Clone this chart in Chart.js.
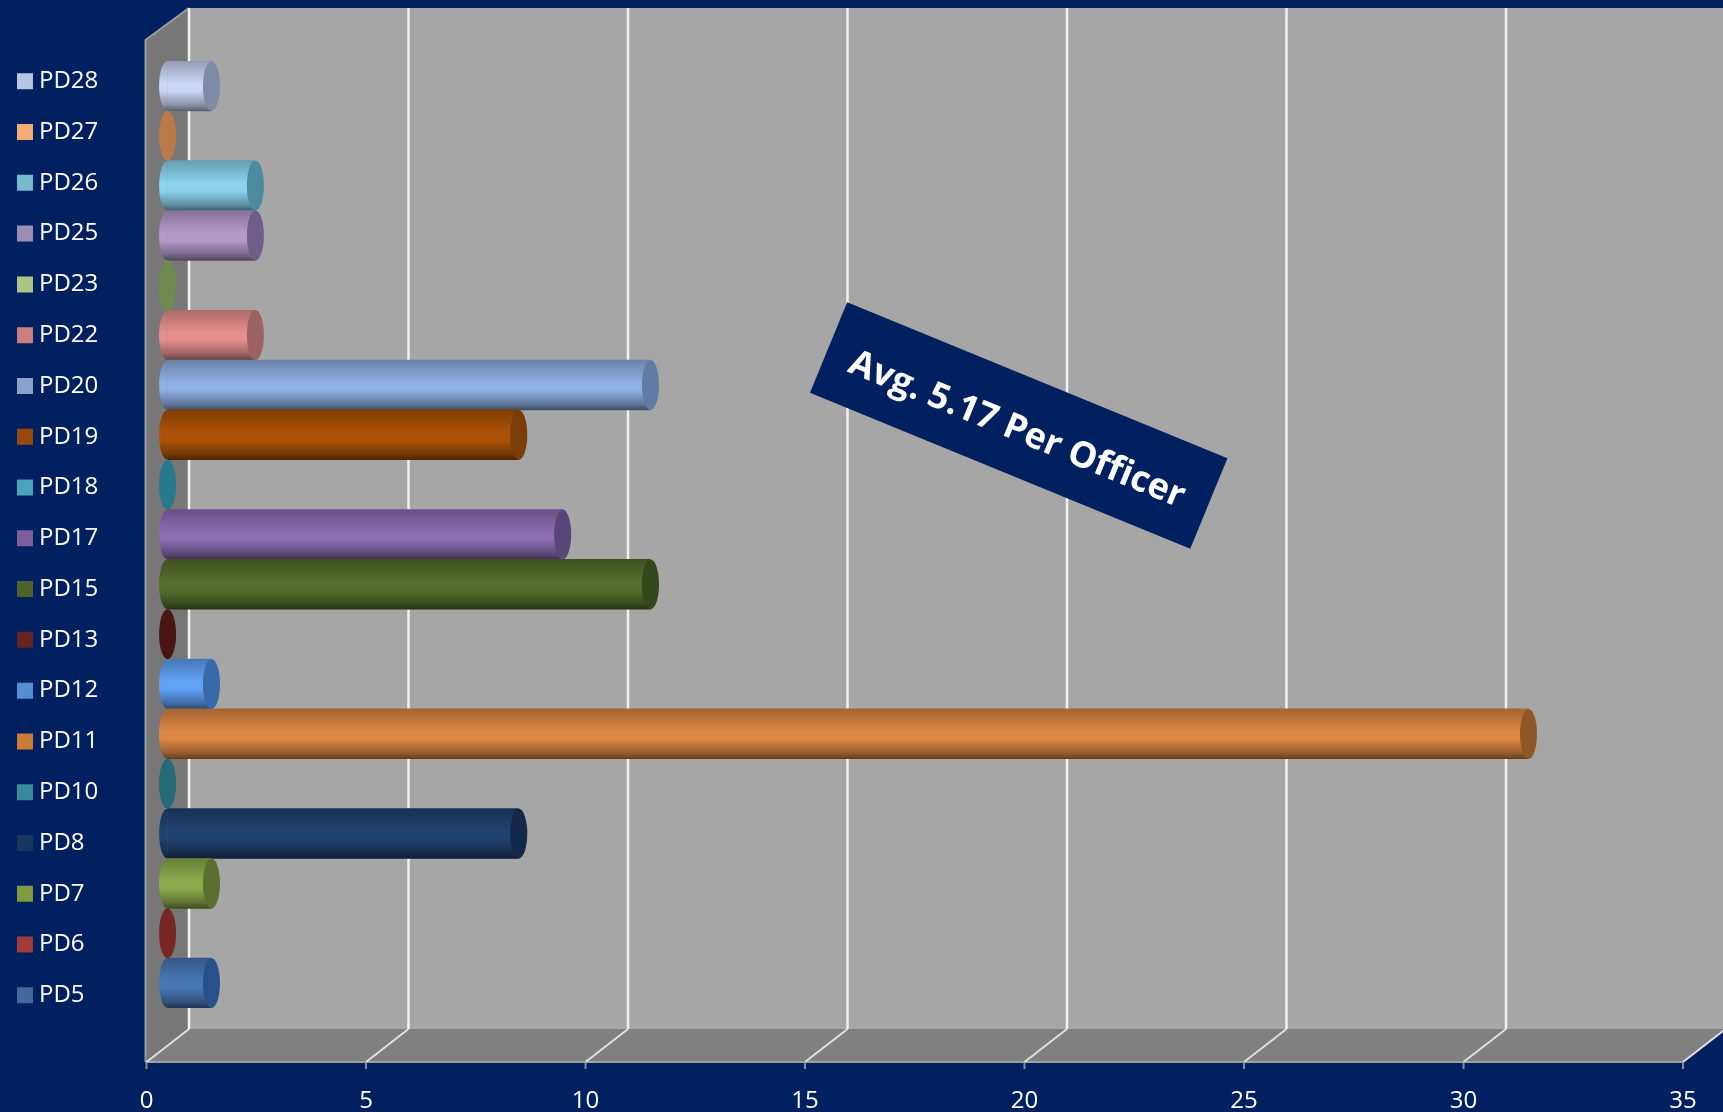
<!DOCTYPE html>
<html>
<head>
<meta charset="utf-8">
<title>PD chart</title>
<script src="https://cdn.jsdelivr.net/npm/chart.js@4"></script>
<style>
    html, body { margin: 0; padding: 0; background: #002060; overflow: hidden; }
    #wrap { width: 1723px; height: 1112px; position: relative; }
</style>
</head>
<body>
<div id="wrap"><canvas id="pdChart"></canvas></div>
<script>
const categories = ['PD28', 'PD27', 'PD26', 'PD25', 'PD23', 'PD22', 'PD20', 'PD19', 'PD18', 'PD17',
    'PD15', 'PD13', 'PD12', 'PD11', 'PD10', 'PD8', 'PD7', 'PD6', 'PD5'];
const counts = [1, 0, 2, 2, 0, 2, 11, 8, 0, 9, 11, 0, 1, 31, 0, 8, 1, 0, 1];
const swatchColors = ['#B8C6E0', '#F9AB76', '#79B9CF', '#9C8DB6', '#AFC585', '#CD7F7E', '#87A2CB', '#97480A', '#4AA5BC', '#7A5F9B',
    '#4F6229', '#652421', '#558ED5', '#CC7A36', '#378B9F', '#17375E', '#7F9A3F', '#A03C3A', '#43699B'];
const bodyColors = ['#C9D6F5', '#E49A66', '#8AD4EE', '#B39ACB', '#A0BC70', '#E68F8E', '#8EB0E4', '#AC5206', '#3A9AB0', '#8D6DB3',
    '#566E2C', '#5A1A18', '#60A2F5', '#DE8843', '#2F8496', '#1F4270', '#8CAA4C', '#8A2C2A', '#4677B4'];
const capColors = ['#7F8BA6', '#BA7A4C', '#4C8A9F', '#6F5F88', '#6F8A4E', '#9A6261', '#5F7BA6', '#7A3C08', '#277A8C', '#5A4578',
    '#33471A', '#4A1513', '#366AA8', '#8F5725', '#246A78', '#12294A', '#5A702E', '#782725', '#28508A'];
const xTicks = { min: 0, max: 35, step: 5 };
const avgLabel = 'Avg. 5.17 Per Officer';

// fake 3d box, px offset from the front of the box to the back wall
const depthX = 42.5;
const depthY = -33;
const floorY = 1062;
const wallTopY = 8;
const barShift = 0.48; // bars sit half way into the box, in axis units

function boxPlugin(chart) {
    const ctx = chart.ctx;
    const x = chart.scales.x;
    const x0 = x.getPixelForValue(0);
    const backX = x0 + depthX;
    const backY = floorY + depthY;
    ctx.save();
    // back wall
    ctx.fillStyle = '#A6A6A6';
    ctx.fillRect(backX, wallTopY, chart.width - backX, backY - wallTopY);
    // left wall
    ctx.fillStyle = '#777777';
    ctx.beginPath();
    ctx.moveTo(x0 - 1, floorY);
    ctx.lineTo(x0 - 1, wallTopY + 32);
    ctx.lineTo(backX, wallTopY);
    ctx.lineTo(backX, backY);
    ctx.closePath();
    ctx.fill();
    ctx.strokeStyle = '#9A9A9A';
    ctx.lineWidth = 2;
    ctx.beginPath();
    ctx.moveTo(x0 - 1, floorY);
    ctx.lineTo(x0 - 1, wallTopY + 32);
    ctx.lineTo(backX, wallTopY);
    ctx.stroke();
    // floor
    ctx.fillStyle = '#808080';
    ctx.beginPath();
    ctx.moveTo(x0 - 1, floorY);
    ctx.lineTo(x.right, floorY);
    ctx.lineTo(x.right + depthX, backY);
    ctx.lineTo(chart.width, backY);
    ctx.lineTo(backX, backY);
    ctx.closePath();
    ctx.fill();
    ctx.strokeStyle = '#A0A0A0';
    ctx.beginPath();
    ctx.moveTo(x0 - 1, floorY);
    ctx.lineTo(x.right, floorY);
    ctx.stroke();
    // gridlines up the back wall and across the floor, one per tick
    x.ticks.forEach(t => {
        const px = x.getPixelForValue(t.value);
        ctx.strokeStyle = '#F2F2F2';
        ctx.lineWidth = 2.5;
        ctx.beginPath();
        ctx.moveTo(px + depthX, wallTopY);
        ctx.lineTo(px + depthX, backY);
        ctx.stroke();
        ctx.strokeStyle = '#E0E0E0';
        ctx.lineWidth = 2;
        ctx.beginPath();
        ctx.moveTo(px + depthX, backY);
        ctx.lineTo(px, floorY);
        ctx.stroke();
        ctx.strokeStyle = '#8C8C8C';
        ctx.beginPath();
        ctx.moveTo(px, floorY);
        ctx.lineTo(px, floorY + 7);
        ctx.stroke();
    });
    ctx.restore();
}

// cylinder shading for one bar, top edge to bottom edge
function barGradient(chart, i) {
    const y = chart.scales.y;
    const mid = y.getPixelForValue(i);
    const half = y.height / categories.length / 2;
    const g = chart.ctx.createLinearGradient(0, mid - half, 0, mid + half);
    const base = bodyColors[i];
    g.addColorStop(0, shade(base, 0.74));
    g.addColorStop(0.45, base);
    g.addColorStop(0.6, base);
    g.addColorStop(0.88, shade(base, 0.68));
    g.addColorStop(1, shade(base, 0.45));
    return g;
}

function shade(hex, f) {
    const n = parseInt(hex.slice(1), 16);
    const r = Math.round((n >> 16 & 255) * f);
    const g = Math.round((n >> 8 & 255) * f);
    const b = Math.round((n & 255) * f);
    return `rgb(${r}, ${g}, ${b})`;
}

const capRadiusX = 8.5;

const cylinderPlugin = {
    id: 'cylinders',
    beforeLayout(chart) {
        // the legend column is as wide as the gutter left of the box
        if (!chart.legend.patched) {
            const fit = chart.legend.fit;
            chart.legend.fit = function () {
                fit.call(this);
                this.width = 146.5;
            };
            chart.legend.patched = true;
        }
    },
    afterLayout(chart) {
        chart.legend.left = -3.8;
        chart.legend.top = 42.5;
    },
    beforeDatasetsDraw(chart) {
        boxPlugin(chart);
        const ctx = chart.ctx;
        const bars = chart.getDatasetMeta(0).data;
        // rounded back end of every bar that has a length
        bars.forEach((bar, i) => {
            if (counts[i] === 0) return;
            ctx.save();
            ctx.fillStyle = barGradient(chart, i);
            ctx.beginPath();
            ctx.ellipse(bar.base, bar.y, capRadiusX, bar.height / 2, 0, Math.PI / 2, Math.PI * 1.5);
            ctx.fill();
            ctx.restore();
        });
    },
    afterDatasetsDraw(chart) {
        const ctx = chart.ctx;
        const bars = chart.getDatasetMeta(0).data;
        bars.forEach((bar, i) => {
            ctx.save();
            ctx.fillStyle = capColors[i];
            ctx.beginPath();
            ctx.ellipse(bar.x, bar.y, capRadiusX, bar.height / 2, 0, 0, Math.PI * 2);
            ctx.fill();
            ctx.restore();
        });
        // rotated label box
        ctx.save();
        ctx.translate(1018.7, 425.5);
        ctx.rotate(22.3 * Math.PI / 180);
        ctx.fillStyle = '#002060';
        ctx.fillRect(-205.5, -49, 411, 98);
        ctx.fillStyle = '#FFFFFF';
        ctx.font = 'bold 36px "Open Sans"';
        ctx.textAlign = 'center';
        ctx.textBaseline = 'middle';
        ctx.fillText(avgLabel, 0, 5);
        ctx.restore();
    }
};

const pdChart = new Chart(document.getElementById('pdChart').getContext('2d'), {
    type: 'bar',
    data: {
        labels: categories,
        datasets: [{
            label: 'Count',
            data: counts,
            xAxisID: 'x2',
            yAxisID: 'y',
            barPercentage: 1,
            categoryPercentage: 1,
            backgroundColor: function (context) {
                const chart = context.chart;
                if (!chart.chartArea) return bodyColors[context.dataIndex];
                return barGradient(chart, context.dataIndex);
            }
        }]
    },
    plugins: [cylinderPlugin],
    options: {
        indexAxis: 'y',
        responsive: true,
        maintainAspectRatio: false,
        animation: false,
        devicePixelRatio: 1,
        layout: {
            padding: { top: 61, right: 40, left: 0, bottom: 0 }
        },
        scales: {
            x: {
                type: 'linear',
                position: 'bottom',
                min: xTicks.min,
                max: xTicks.max,
                afterFit(scale) {
                    scale.height = 104;
                    scale.paddingLeft = 0;
                    scale.paddingRight = 0;
                },
                border: { display: false },
                grid: { display: false },
                ticks: {
                    stepSize: xTicks.step,
                    color: '#FFFFFF',
                    padding: 71,
                    maxRotation: 0,
                    font: { family: '"Open Sans"', size: 24 }
                }
            },
            x2: {
                type: 'linear',
                display: false,
                min: xTicks.min - barShift,
                max: xTicks.max - barShift
            },
            y: {
                display: false,
                grid: { display: false }
            }
        },
        plugins: {
            title: { display: false },
            tooltip: { enabled: false },
            legend: {
                display: true,
                position: 'left',
                align: 'start',
                onClick: null,
                labels: {
                    color: '#FFFFFF',
                    boxWidth: 4,
                    boxHeight: 4,
                    padding: 26.78,
                    font: { family: '"Open Sans"', size: 24 },
                    generateLabels: () => categories.map((c, i) => ({
                        text: c,
                        fillStyle: swatchColors[i],
                        strokeStyle: swatchColors[i],
                        fontColor: '#FFFFFF',
                        lineWidth: 12,
                        lineJoin: 'miter',
                        hidden: false,
                        index: i
                    }))
                }
            }
        }
    }
});
</script>
</body>
</html>
